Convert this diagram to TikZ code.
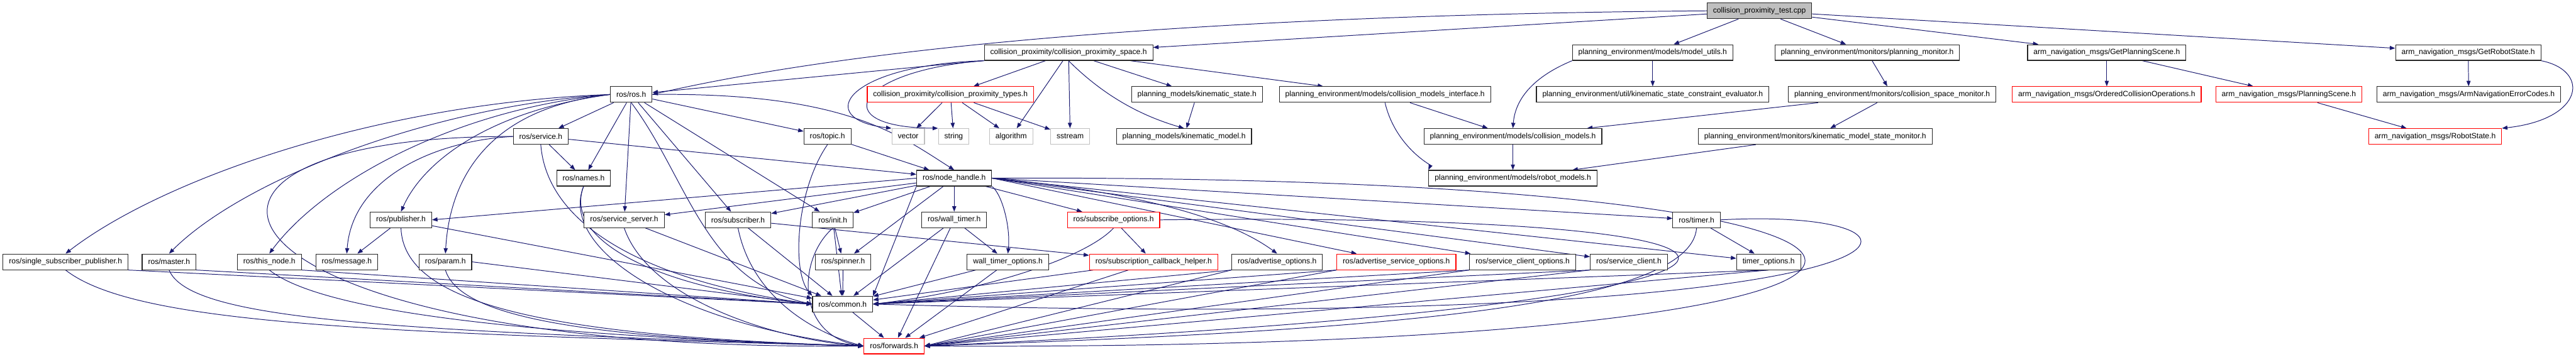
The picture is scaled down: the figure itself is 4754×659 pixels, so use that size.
\documentclass[tikz,border=0pt]{standalone}
\usepackage{fontspec}
\setmainfont{Liberation Sans}
\usetikzlibrary{arrows.meta}
\pgfdeclarelayer{background}
\pgfsetlayers{background,main}
\definecolor{edgeblue}{HTML}{191970}
\definecolor{sysgray}{HTML}{BFBFBF}

\begin{document}
\begin{tikzpicture}[x=0.02cm, y=-0.02cm,
		file/.style={draw=black!85, line width=0.75pt, fill=white, minimum height=0.58cm,
			inner xsep=0.22cm, inner ysep=0pt, font=\fontsize{8}{9.6}\selectfont},
		redfile/.style={file, draw=red},
		sysfile/.style={file, draw=sysgray},
		link/.style={draw=edgeblue, line width=0.65pt, -{Triangle[length=0.2cm,width=0.15cm]}}]
		\useasboundingbox (0,0) rectangle (4754,659);
		
		% Верхние уровни
		\node[file, fill=sysgray] (test) at (3247,20) {collision\_proximity\_test.cpp};
		\node[file] (cps) at (1972,97) {collision\_proximity/collision\_proximity\_space.h};
		\node[file] (mutils) at (3050,97) {planning\_environment/models/model\_utils.h};
		\node[file] (pmon) at (3446,97) {planning\_environment/monitors/planning\_monitor.h};
		\node[file] (gps) at (3888,97) {arm\_navigation\_msgs/GetPlanningScene.h};
		\node[file] (grs) at (4555,97) {arm\_navigation\_msgs/GetRobotState.h};
		
		\node[file] (rosh) at (1165,174.5) {ros/ros.h};
		\node[redfile] (cptypes) at (1754,174.5) {collision\_proximity/collision\_proximity\_types.h};
		\node[file] (kstate) at (2209,174.5) {planning\_models/kinematic\_state.h};
		\node[file] (cmi) at (2556,174.5) {planning\_environment/models/collision\_models\_interface.h};
		\node[file] (kscev) at (3050,174.5) {planning\_environment/util/kinematic\_state\_constraint\_evaluator.h};
		\node[file] (csmon) at (3492,174.5) {planning\_environment/monitors/collision\_space\_monitor.h};
		\node[redfile] (oco) at (3888,174.5) {arm\_navigation\_msgs/OrderedCollisionOperations.h};
		\node[redfile] (pscene) at (4224,174.5) {arm\_navigation\_msgs/PlanningScene.h};
		\node[file] (anec) at (4556,174.5) {arm\_navigation\_msgs/ArmNavigationErrorCodes.h};
		
		\node[file] (service) at (998,252) {ros/service.h};
		\node[file] (topic) at (1527,252) {ros/topic.h};
		\node[sysfile] (vector) at (1676,252) {vector};
		\node[sysfile] (string) at (1760,252) {string};
		\node[sysfile] (algorithm) at (1866,252) {algorithm};
		\node[sysfile] (sstream) at (1975,252) {sstream};
		\node[file] (kmodel) at (2185,252) {planning\_models/kinematic\_model.h};
		\node[file] (cmodels) at (2792,252) {planning\_environment/models/collision\_models.h};
		\node[file] (kmsmon) at (3350,252) {planning\_environment/monitors/kinematic\_model\_state\_monitor.h};
		\node[redfile] (rstate) at (4494,252) {arm\_navigation\_msgs/RobotState.h};
		
		\node[file] (names) at (1077,329) {ros/names.h};
		\node[file] (nh) at (1761,329) {ros/node\_handle.h};
		\node[file] (rmodels) at (2792,329) {planning\_environment/models/robot\_models.h};
		
		% Нижние уровни
		\node[file] (publisher) at (740,406) {ros/publisher.h};
		\node[file] (sserver) at (1152,406) {ros/service\_server.h};
		\node[file] (subscriber) at (1362,406) {ros/subscriber.h};
		\node[file] (init) at (1537,406) {ros/init.h};
		\node[file] (wtimer) at (1761,406) {ros/wall\_timer.h};
		\node[redfile] (subopts) at (2055,406) {ros/subscribe\_options.h};
		\node[file] (timer) at (3131,406) {ros/timer.h};
		
		\node[file] (ssp) at (121,483.5) {ros/single\_subscriber\_publisher.h};
		\node[file] (master) at (312,483.5) {ros/master.h};
		\node[file] (thisnode) at (497,483.5) {ros/this\_node.h};
		\node[file] (message) at (640,483.5) {ros/message.h};
		\node[file] (param) at (822,483.5) {ros/param.h};
		\node[file] (spinner) at (1556,483.5) {ros/spinner.h};
		\node[file] (wtopts) at (1860,483.5) {wall\_timer\_options.h};
		\node[redfile] (sch) at (2129,483.5) {ros/subscription\_callback\_helper.h};
		\node[file] (advopts) at (2357,483.5) {ros/advertise\_options.h};
		\node[redfile] (asopts) at (2577,483.5) {ros/advertise\_service\_options.h};
		\node[file] (scopts) at (2810,483.5) {ros/service\_client\_options.h};
		\node[file] (sclient) at (3006,483.5) {ros/service\_client.h};
		\node[file] (topts) at (3264,483.5) {timer\_options.h};
		
		\node[file] (common) at (1555,561.5) {ros/common.h};
		\node[redfile] (forwards) at (1650,639) {ros/forwards.h};
		
		\begin{pgfonlayer}{background}
			\fill[white] (0,0) rectangle (4754,659);
			
			% Прямые связи
			\foreach \s/\t in {test/cps, test/mutils, test/pmon, test/gps, test/grs,
				cps/rosh, cps/cptypes, cps/algorithm, cps/sstream, cps/kstate, cps/cmi,
				cptypes/vector, cptypes/string, cptypes/algorithm, cptypes/sstream,
				kstate/kmodel, cmi/cmodels, mutils/kscev, pmon/csmon, csmon/cmodels,
				csmon/kmsmon, kmsmon/rmodels, cmodels/rmodels, gps/oco, gps/pscene,
				pscene/rstate, grs/anec,
				rosh/service, rosh/names, rosh/sserver, rosh/subscriber, rosh/init, rosh/topic,
				service/nh, service/names, topic/nh,
				nh.west/publisher.east, nh/sserver, nh/subscriber, nh/init, nh/spinner, nh/wtimer,
				nh/subopts, nh.east/asopts, nh.east/scopts, nh.east/sclient, nh.east/timer,
				nh.east/topts, nh.south west/common.north east,
				publisher/message, publisher/common, ssp.south east/common.west,
				master.south east/common.west, thisnode.south east/common.west,
				param.east/common.west, sserver/common, subscriber/common, subscriber/sch,
				init/spinner, init/common, spinner/common, common/forwards,
				wtimer/common, wtimer/forwards, wtimer/wtopts, wtopts/common, wtopts/forwards,
				subopts/sch, sch/common, sch/forwards,
				advopts.south west/common.east, advopts.south west/forwards.east,
				asopts.south west/common.east, asopts.south west/forwards.east,
				scopts.south west/common.east, scopts.south west/forwards.east,
				sclient.south west/common.east, sclient.south west/forwards.east,
				timer/topts, topts.south/common.east, topts.south/forwards.east}
			\draw[link] (\s) -- (\t);
			
			% Изогнутые связи
			\draw[link] (test.west) .. controls (2500,25) and (1700,60) .. (rosh.east);
			\draw[link] (cps.south west) .. controls (1560,120) and (1500,220) .. (vector.north west);
			\draw[link] (cps.south west) .. controls (1580,130) and (1520,235) .. (string.north west);
			\draw[link] (cps.south) .. controls (2040,180) and (2110,215) .. (kmodel.north);
			\draw[link] (cmi.south) .. controls (2575,270) and (2640,305) .. (rmodels.north west);
			\draw[link] (mutils.south west) .. controls (2810,150) and (2795,200) .. (cmodels.north);
			\draw[link] (grs.south east) .. controls (4780,130) and (4770,220) .. (rstate.north east);
			
			\draw[link] (rosh.west) .. controls (700,190) and (300,330) .. (ssp.north);
			\draw[link] (rosh.west) .. controls (800,195) and (450,330) .. (master.north);
			\draw[link] (rosh.west) .. controls (850,200) and (600,330) .. (thisnode.north);
			\draw[link] (rosh.west) .. controls (900,205) and (780,300) .. (publisher.north);
			\draw[link] (rosh.west) .. controls (900,200) and (830,330) .. (param.north);
			\draw[link] (rosh.east) .. controls (1560,170) and (1660,250) .. (nh.north);
			\draw[link] (rosh.south) .. controls (1270,330) and (1300,520) .. (common.west);
			
			\draw[link] (service.west) .. controls (800,260) and (650,330) .. (message.north);
			\draw[link] (service.west) .. controls (200,250) and (350,650) .. (forwards.west);
			\draw[link] (service.south) .. controls (1010,420) and (1200,520) .. (common.west);
			\draw[link] (names.south) .. controls (1040,440) and (1200,530) .. (common.west);
			\draw[link] (names.south) .. controls (1030,460) and (1250,600) .. (forwards.west);
			\draw[link] (topic.south) .. controls (1470,350) and (1460,500) .. (common.north west);
			
			\draw[link] (ssp.south) .. controls (250,600) and (700,615) .. (forwards.west);
			\draw[link] (master.south) .. controls (350,590) and (700,610) .. (forwards.west);
			\draw[link] (thisnode.south) .. controls (600,580) and (1000,620) .. (forwards.west);
			\draw[link] (publisher.south) .. controls (745,560) and (1000,620) .. (forwards.west);
			\draw[link] (param.south) .. controls (850,590) and (1100,625) .. (forwards.west);
			\draw[link] (sserver.south) .. controls (1200,560) and (1450,630) .. (forwards.west);
			\draw[link] (subscriber.south) .. controls (1390,560) and (1520,620) .. (forwards.west);
			\draw[link] (init.south) .. controls (1470,480) and (1470,620) .. (forwards.west);
			
			\draw[link] (nh.south east) .. controls (1850,360) and (1865,420) .. (wtopts.north);
			\draw[link] (nh.east) .. controls (2050,350) and (2250,390) .. (advopts.north);
			\draw[link] (nh.east) .. controls (3850,320) and (3850,650) .. (forwards.east);
			\draw[link] (subopts.south) .. controls (2000,480) and (1800,540) .. (common.east);
			\draw[link] (subopts.east) .. controls (3480,390) and (3480,560) .. (forwards.east);
			\draw[link] (timer.east) .. controls (3650,380) and (3650,620) .. (common.east);
			\draw[link] (timer.south) .. controls (3120,560) and (2600,610) .. (forwards.east);
		\end{pgfonlayer}
	\end{tikzpicture}
\end{document}
